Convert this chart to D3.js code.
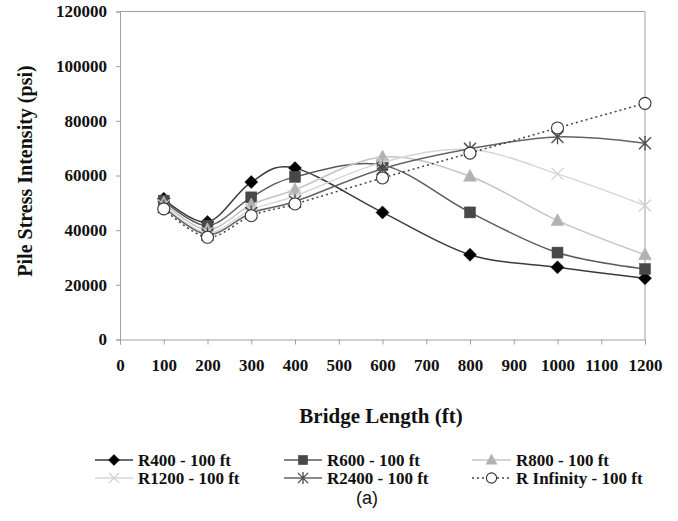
<!DOCTYPE html>
<html>
<head>
<meta charset="utf-8">
<script src="https://cdn.jsdelivr.net/npm/d3@7"></script>
<style>
  html, body { margin: 0; padding: 0; background: #fff; }
  svg { display: block; }
</style>
</head>
<body>
<svg id="chart" width="678" height="521"></svg>
<script>
// Bridge lengths (ft) and pile stress intensity (psi) per curvature radius
const lengths = [100, 200, 300, 400, 600, 800, 1000, 1200];
const seriesNames = ["R400 - 100 ft", "R600 - 100 ft", "R800 - 100 ft",
                     "R1200 - 100 ft", "R2400 - 100 ft", "R Infinity - 100 ft"];
const r400  = [51500, 43000, 57600, 62700, 46500, 31000, 26400, 22400];
const r600  = [50800, 41700, 52000, 59500, 63800, 46500, 31800, 25800];
const r800  = [50000, 40200, 49300, 54800, 66800, 59700, 43500, 31000];
const r1200 = [49000, 39000, 47500, 52500, 64800, 69500, 60600, 49000];
const r2400 = [48500, 38400, 46300, 50500, 62500, 69800, 74100, 71800];
const rInf  = [47800, 37400, 45300, 49600, 59100, 68200, 77400, 86400];
const xTicks = [0, 100, 200, 300, 400, 500, 600, 700, 800, 900, 1000, 1100, 1200];
const yTicks = [0, 20000, 40000, 60000, 80000, 100000, 120000];

const values = [r400, r600, r800, r1200, r2400, rInf];
const styles = [
  { line: "#3a3a3a", dash: null, marker: "diamond",  fill: "#000",  stroke: "#000" },
  { line: "#5a5a5a", dash: null, marker: "square",   fill: "#484848", stroke: "#484848" },
  { line: "#c4c4c4", dash: null, marker: "triangle", fill: "#b2b2b2", stroke: "#b2b2b2" },
  { line: "#d6d6d6", dash: null, marker: "x",        fill: "none",  stroke: "#d0d0d0" },
  { line: "#646464", dash: null, marker: "star",     fill: "none",  stroke: "#4a4a4a" },
  { line: "#444",    dash: "2,3", marker: "circle",  fill: "#fff",  stroke: "#333" }
];

const svg = d3.select("#chart");
const serif = "'Liberation Serif', 'Times New Roman', serif";

const x = d3.scaleLinear().domain([0, 1200]).range([120, 645]);
const y = d3.scaleLinear().domain([0, 120000]).range([339.5, 11.5]);

// plot frame (top and right edges)
svg.append("path")
  .attr("d", `M${x(0)},${y(120000)}H${x(1200)}V${y(0)}`)
  .attr("fill", "none").attr("stroke", "#a0a0a0").attr("stroke-width", 1);

// axes
const xAxis = svg.append("g").attr("transform", `translate(0,${y(0)})`)
  .call(d3.axisBottom(x).tickValues(xTicks).tickFormat(d3.format("d")).tickSizeOuter(0).tickSize(5).tickPadding(14));
const yAxis = svg.append("g").attr("transform", `translate(${x(0)},0)`)
  .call(d3.axisLeft(y).tickValues(yTicks).tickFormat(d3.format("d")).tickSizeOuter(0).tickSize(4).tickPadding(9));
[xAxis, yAxis].forEach(g => {
  g.select(".domain").attr("stroke", "#a0a0a0");
  g.selectAll(".tick line").attr("stroke", "#a0a0a0");
  g.selectAll(".tick text")
    .attr("font-family", serif).attr("font-weight", "bold")
    .attr("font-size", 17).attr("fill", "#111");
});

// axis titles
svg.append("text")
  .attr("x", 381).attr("y", 423)
  .attr("text-anchor", "middle")
  .attr("font-family", serif).attr("font-weight", "bold").attr("font-size", 21)
  .attr("fill", "#111")
  .text("Bridge Length (ft)");
svg.append("text")
  .attr("transform", "translate(32,171) rotate(-90)")
  .attr("text-anchor", "middle")
  .attr("font-family", serif).attr("font-weight", "bold").attr("font-size", 20)
  .attr("fill", "#111")
  .text("Pile Stress Intensity (psi)");

// marker drawing
function drawMarker(g, type, cx, cy, st, scale = 1) {
  const s = scale;
  if (type === "diamond") {
    g.append("path").attr("d", `M${cx},${cy - 6.5 * s}L${cx + 6.5 * s},${cy}L${cx},${cy + 6.5 * s}L${cx - 6.5 * s},${cy}Z`)
      .attr("fill", st.fill).attr("stroke", st.stroke).attr("stroke-width", 0.5);
  } else if (type === "square") {
    g.append("rect").attr("x", cx - 5.5 * s).attr("y", cy - 5.5 * s)
      .attr("width", 11 * s).attr("height", 11 * s)
      .attr("fill", st.fill).attr("stroke", st.stroke).attr("stroke-width", 0.5);
  } else if (type === "triangle") {
    g.append("path").attr("d", `M${cx},${cy - 7 * s}L${cx + 6.5 * s},${cy + 5 * s}L${cx - 6.5 * s},${cy + 5 * s}Z`)
      .attr("fill", st.fill).attr("stroke", st.stroke).attr("stroke-width", 0.5);
  } else if (type === "x") {
    const r = 6 * s;
    g.append("path").attr("d", `M${cx - r},${cy - r}L${cx + r},${cy + r}M${cx - r},${cy + r}L${cx + r},${cy - r}`)
      .attr("stroke", st.stroke).attr("stroke-width", 1.3).attr("fill", "none");
  } else if (type === "star") {
    const r = 6 * s;
    g.append("path").attr("d", `M${cx - r},${cy - r}L${cx + r},${cy + r}M${cx - r},${cy + r}L${cx + r},${cy - r}M${cx},${cy - r * 1.2}L${cx},${cy + r * 1.2}`)
      .attr("stroke", st.stroke).attr("stroke-width", 1.3).attr("fill", "none");
  } else if (type === "circle") {
    g.append("circle").attr("cx", cx).attr("cy", cy).attr("r", 6 * s)
      .attr("fill", st.fill).attr("stroke", st.stroke).attr("stroke-width", 1.1);
  }
}

// series: smooth lines with markers
const line = d3.line()
  .x((d, i) => x(lengths[i]))
  .y(d => y(d))
  .curve(d3.curveCatmullRom.alpha(0));

values.forEach((vals, si) => {
  const st = styles[si];
  const g = svg.append("g");
  g.append("path").datum(vals)
    .attr("d", line)
    .attr("fill", "none")
    .attr("stroke", st.line)
    .attr("stroke-width", 1.5)
    .attr("stroke-dasharray", st.dash);
  vals.forEach((v, i) => drawMarker(g, st.marker, x(lengths[i]), y(v), st));
});

// legend: three columns, two rows
const legendCols = [95, 284, 472];
const legendRows = [460, 478];
const legendText = [138, 327, 516];
seriesNames.forEach((name, i) => {
  const col = i % 3, row = Math.floor(i / 3);
  const st = styles[i];
  const g = svg.append("g");
  const x0 = legendCols[col], x1 = legendText[col] - 5, cy = legendRows[row];
  g.append("line").attr("x1", x0).attr("x2", x1).attr("y1", cy).attr("y2", cy)
    .attr("stroke", st.line).attr("stroke-width", 1.5)
    .attr("stroke-dasharray", st.dash);
  drawMarker(g, st.marker, (x0 + x1) / 2, cy, st, 0.85);
  g.append("text")
    .attr("x", legendText[col]).attr("y", cy + 5.5)
    .attr("font-family", serif).attr("font-weight", "bold").attr("font-size", 17)
    .attr("fill", "#111")
    .text(name);
});

// panel label
svg.append("text")
  .attr("x", 367).attr("y", 504)
  .attr("text-anchor", "middle")
  .attr("font-family", "'Liberation Sans', Arial, sans-serif")
  .attr("font-size", 18).attr("fill", "#111")
  .text("(a)");
</script>
</body>
</html>
